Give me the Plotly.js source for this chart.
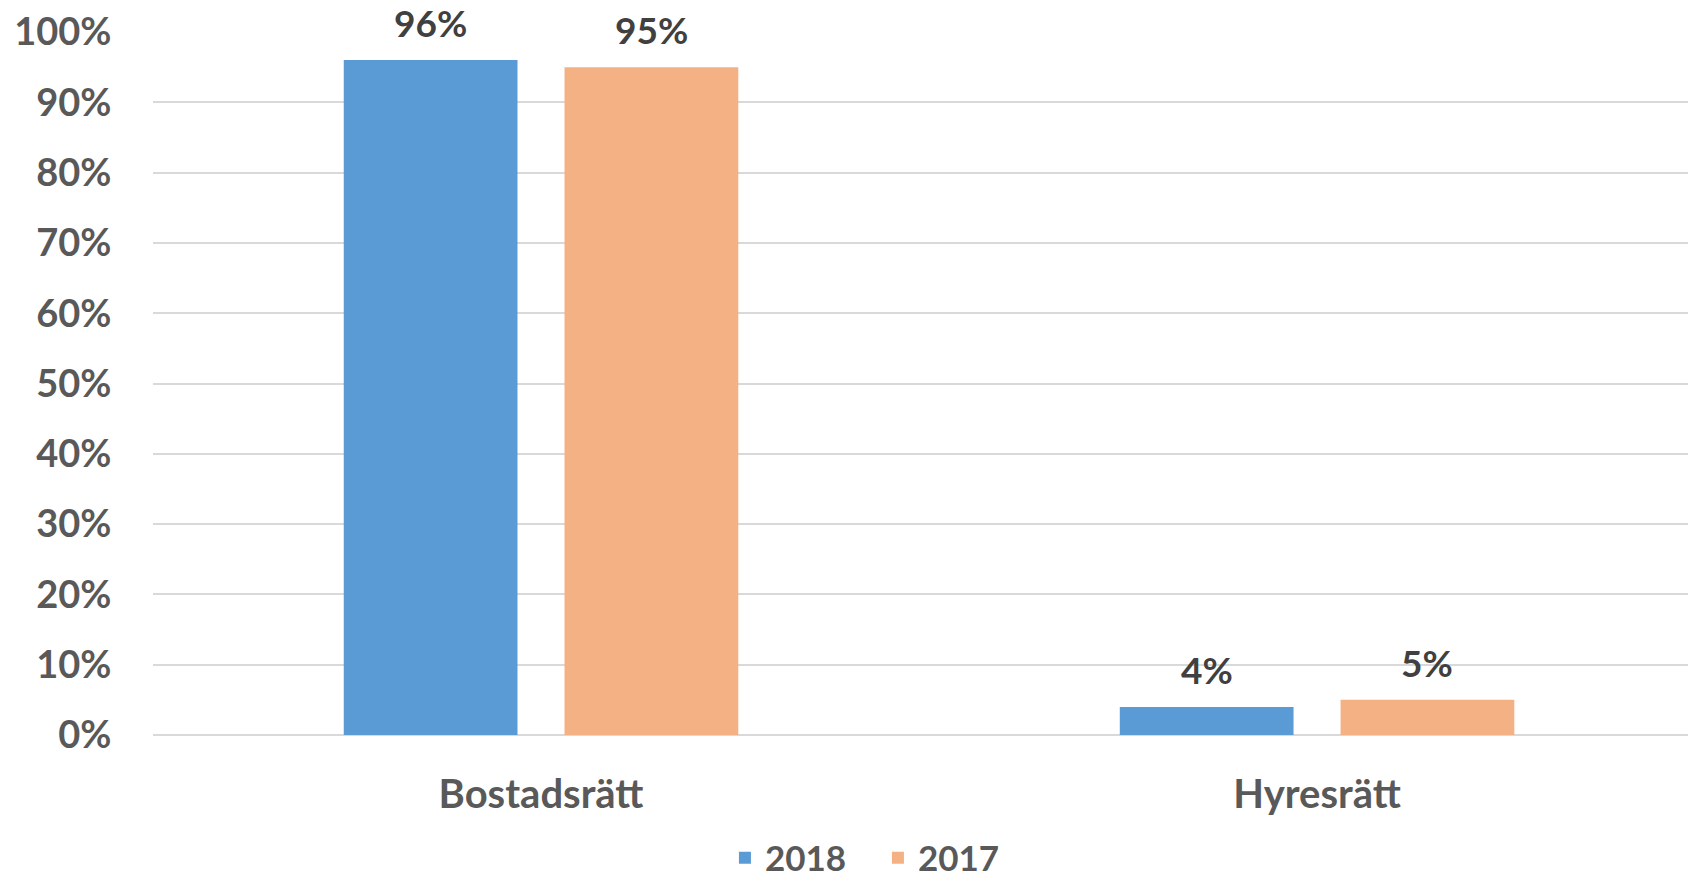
<!DOCTYPE html>
<html>
<head>
<meta charset="utf-8">
<script src="https://cdn.plot.ly/plotly-3.0.1.min.js"></script>
<style>html,body{margin:0;padding:0;background:#fff;}#chart{width:1688px;height:882px;}</style>
</head>
<body>
<div id="chart"></div>
<script>
const categories = ["Bostadsrätt", "Hyresrätt"];
const seriesNames = ["2018", "2017"];
const values2018 = [0.96, 0.04];
const values2017 = [0.95, 0.05];
const yTickVals = [0, 0.1, 0.2, 0.3, 0.4, 0.5, 0.6, 0.7, 0.8, 0.9, 1.0];

const FONT = "Lato, 'Open Sans', sans-serif";
const fmt = v => Math.round(v * 100) + "%";
const BARGAP = 0.431;
const BARGROUPGAP = 0.213;
const slotHalf = (1 - BARGAP) / 4;

const traces = [
  {
    type: "bar", name: seriesNames[0], x: categories, y: values2018,
    marker: {color: "#5B9BD5"}, hoverinfo: "none"
  },
  {
    type: "bar", name: seriesNames[1], x: categories, y: values2017,
    marker: {color: "#F4B183"}, hoverinfo: "none"
  }
];

const annotations = [];
[values2018, values2017].forEach((vals, s) => {
  vals.forEach((v, i) => {
    annotations.push({
      xref: "x", yref: "y",
      x: i + (s === 0 ? -slotHalf : slotHalf), y: v,
      text: fmt(v), showarrow: false,
      xanchor: "center", yanchor: "bottom", yshift: 13,
      font: {family: FONT, size: 37, color: "#404040", weight: 700}
    });
  });
});

const layout = {
  width: 1688, height: 882,
  margin: {l: 153, r: 0, t: 31.5, b: 146.5, autoexpand: false},
  paper_bgcolor: "#ffffff", plot_bgcolor: "#ffffff",
  barmode: "group", bargap: BARGAP, bargroupgap: BARGROUPGAP,
  font: {family: FONT, color: "#595959", size: 38, weight: 700},
  showlegend: true,
  legend: {
    orientation: "h", x: 0.3726, xanchor: "left", y: -0.133, yanchor: "top",
    font: {family: FONT, size: 35, color: "#595959", weight: 700},
    entrywidth: 108, entrywidthmode: "pixels",
    traceorder: "normal"
  },
  annotations: annotations,
  xaxis: {
    type: "category", range: [-0.5, 1.478],
    showgrid: false, zeroline: false, showline: false,
    ticks: "outside", ticklen: 24, tickcolor: "rgba(0,0,0,0)",
    tickfont: {family: FONT, size: 40, color: "#595959", weight: 700}
  },
  yaxis: {
    range: [0, 1], tickvals: yTickVals, tickformat: ".0%",
    showgrid: true, gridcolor: "#D9D9D9", gridwidth: 2,
    zeroline: true, zerolinecolor: "#D9D9D9", zerolinewidth: 2,
    showline: false,
    ticks: "outside", ticklen: 33, tickcolor: "rgba(0,0,0,0)",
    tickfont: {family: FONT, size: 38, color: "#595959", weight: 700}
  }
};

Plotly.newPlot("chart", traces, layout, {displayModeBar: false, staticPlot: true});
</script>
</body>
</html>
